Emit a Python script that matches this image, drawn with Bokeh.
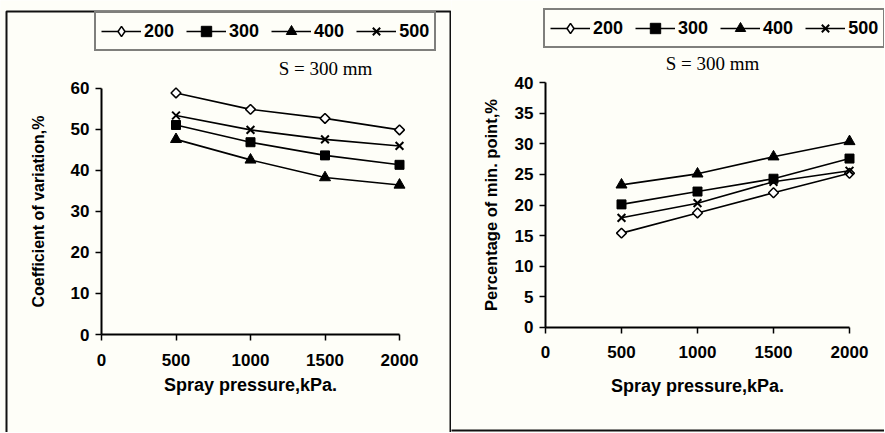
import numpy as np
from bokeh.plotting import figure
from bokeh.layouts import row
from bokeh.models import Legend, LegendItem, BoxAnnotation, Label, FixedTicker, Range1d
from bokeh.embed import file_html
from bokeh.resources import INLINE

# ---- data ----
pressure = [500, 1000, 1500, 2000]
series_names = ["200", "300", "400", "500"]

cov_200 = [58.8, 54.8, 52.6, 49.8]
cov_300 = [51.0, 46.8, 43.6, 41.3]
cov_400 = [47.5, 42.5, 38.2, 36.4]
cov_500 = [53.3, 49.8, 47.5, 45.9]

min_200 = [15.4, 18.7, 22.0, 25.2]
min_300 = [20.1, 22.2, 24.3, 27.6]
min_400 = [23.3, 25.1, 27.9, 30.4]
min_500 = [17.9, 20.3, 23.8, 25.6]

x_ticks = [0, 500, 1000, 1500, 2000]
cov_ticks = [0, 10, 20, 30, 40, 50, 60]
min_ticks = [0, 5, 10, 15, 20, 25, 30, 35, 40]

x_title = "Spray pressure,kPa."
cov_title = "Coefficient of variation,%"
min_title = "Percentage of min. point,%"
note = "S = 300 mm"

BG = "#fefef8"
FONT = "Liberation Sans"

MARKERS = [
    dict(marker="square", angle=np.pi / 4, size=7, fill_color="white", line_width=1.5),
    dict(marker="square", size=9, fill_color="black", line_width=1),
    dict(marker="triangle", size=11, fill_color="black", line_width=1),
    dict(marker="x", size=11, fill_color="black", line_width=2),
]
LEGEND_MARKERS = ["diamond", "square", "triangle", "x"]


def panel(W, H, x0, x2000, y0, ytop, ymax, yticks, series, ytitle, ytitle_size,
          ylab_standoff, xlab_standoff, legend_loc, note_xy, borders):
    sx = (x2000 - x0) / 2000.0
    sy = (y0 - ytop) / ymax
    xr = Range1d(-x0 / sx, (W - x0) / sx)
    yr = Range1d(-(H - y0) / sy, y0 / sy)
    p = figure(width=W, height=H, x_range=xr, y_range=yr,
               output_backend="svg", toolbar_location=None, min_border=0)
    p.grid.visible = False
    p.outline_line_color = None
    p.background_fill_color = BG
    p.border_fill_color = BG

    for ax in (p.xaxis[0], p.yaxis[0]):
        ax.fixed_location = 0
        ax.axis_line_width = 2
        ax.axis_line_color = "black"
        ax.major_tick_line_width = 1.5
        ax.major_tick_line_color = "black"
        ax.major_tick_out = 6
        ax.major_tick_in = 0
        ax.minor_tick_out = 0
        ax.minor_tick_in = 0
        ax.major_label_text_font = FONT
        ax.major_label_text_font_style = "bold"
        ax.major_label_text_font_size = "17px"
        ax.major_label_text_color = "black"
        ax.axis_label_text_font = FONT
        ax.axis_label_text_font_style = "bold"
        ax.axis_label_text_color = "black"
    p.xaxis[0].bounds = (0, 2000)
    p.xaxis[0].ticker = FixedTicker(ticks=x_ticks)
    p.xaxis[0].major_label_standoff = 13
    p.xaxis[0].axis_label = x_title
    p.xaxis[0].axis_label_text_font_size = "18px"
    p.xaxis[0].axis_label_standoff = xlab_standoff
    p.yaxis[0].bounds = (0, ymax)
    p.yaxis[0].ticker = FixedTicker(ticks=yticks)
    p.yaxis[0].major_label_standoff = 6
    p.yaxis[0].axis_label = ytitle
    p.yaxis[0].axis_label_text_font_size = ytitle_size
    p.yaxis[0].axis_label_standoff = ylab_standoff

    items = []
    for name, vals, mk, lmk in zip(series_names, series, MARKERS, LEGEND_MARKERS):
        ln = p.line(pressure, vals, line_color="black", line_width=1.6)
        p.scatter(pressure, vals, line_color="black", **mk)
        # legend proxy (not drawn in the plot: NaN position)
        proxy = p.scatter([np.nan], [np.nan], marker=lmk, line_color="black",
                          fill_color=mk["fill_color"], line_width=mk["line_width"])
        items.append(LegendItem(label=name, renderers=[ln, proxy]))

    leg = Legend(items=items, orientation="horizontal", location=legend_loc,
                 padding=5, spacing=12, glyph_width=40, glyph_height=26,
                 label_standoff=3, label_text_font=FONT,
                 label_text_font_style="bold", label_text_font_size="18px",
                 label_text_color="black", border_line_color="black",
                 border_line_width=2, background_fill_color=BG,
                 background_fill_alpha=1.0, margin=0)
    p.add_layout(leg)

    p.add_layout(Label(x=note_xy[0], y=note_xy[1], x_units="screen", y_units="screen",
                       text=note, text_font="Liberation Serif", text_font_size="19px",
                       text_align="center", text_baseline="middle", text_color="black"))

    for (l, t, r, b) in borders:
        p.add_layout(BoxAnnotation(left=l, top=t, right=r, bottom=b,
                                   left_units="canvas", right_units="canvas",
                                   top_units="canvas", bottom_units="canvas",
                                   fill_color=None, fill_alpha=0,
                                   line_color="#111111", line_alpha=1.0, line_width=2))
    return p


H = 432
left = panel(451, H, x0=101, x2000=399, y0=334, ytop=87.5, ymax=60,
             yticks=cov_ticks, series=[cov_200, cov_300, cov_400, cov_500],
             ytitle=cov_title, ytitle_size="16px", ylab_standoff=21, xlab_standoff=6,
             legend_loc=(94, H - 51), note_xy=(325, H - 68),
             borders=[(6, 11, 450, H + 20)])
right = panel(433, H, x0=94, x2000=398, y0=326.7, ytop=82.3, ymax=40,
              yticks=min_ticks, series=[min_200, min_300, min_400, min_500],
              ytitle=min_title, ytitle_size="16.5px", ylab_standoff=12, xlab_standoff=14,
              legend_loc=(92, H - 48), note_xy=(261, H - 63),
              borders=[(-20, -20, 460, 430)])

layout = row(left, right)
open("out.html", "w").write(file_html(layout, INLINE))
